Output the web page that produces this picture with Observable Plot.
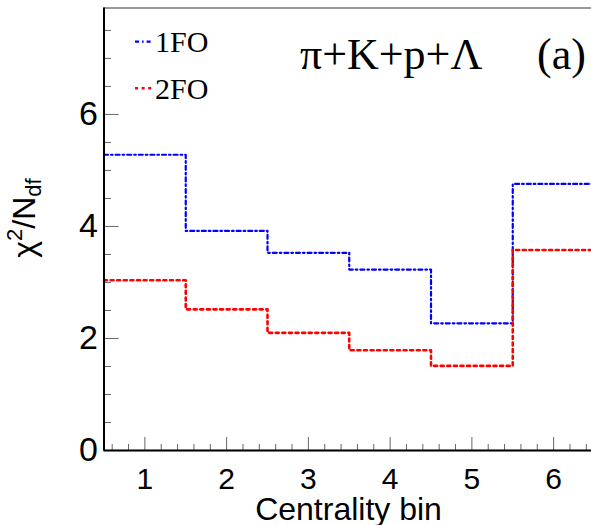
<!DOCTYPE html>
<html><head><meta charset="utf-8">
<script src="https://cdn.jsdelivr.net/npm/d3@7"></script>
<script src="https://cdn.jsdelivr.net/npm/@observablehq/plot@0.6"></script>
<style>
html,body{margin:0;padding:0;background:#fff;overflow:hidden;width:591px;height:525px;}
#chart{width:594px;height:525px;position:relative;}
#chart svg{display:block;max-width:none;}
</style></head><body><div id="chart"></div>
<script>
// ---- data ----
const bins = [1, 2, 3, 4, 5, 6];
const fo1 = [5.28, 3.92, 3.53, 3.23, 2.27, 4.76];
const fo2 = [3.04, 2.52, 2.10, 1.79, 1.51, 3.58];
const seriesNames = ["1FO", "2FO"];
const seriesColors = ["#0000ff", "#ff0000"];
const xTicks = [1, 2, 3, 4, 5, 6];
const yTicks = [0, 2, 4, 6];
const xDomain = [0.5, 6.5];
const yDomain = [0, 7.9];
const xTitle = "Centrality bin";
const panelTitle = "π+K+p+Λ";
const panelTag = "(a)";

// histogram outline: one point per bin low edge, plus the last upper edge
function steps(values, name) {
  const pts = bins.map((b, i) => ({x: b - 0.5, y: values[i], series: name}));
  pts.push({x: bins[bins.length - 1] + 0.5, y: values[values.length - 1], series: name});
  return pts;
}
const xMinor = d3.range(xDomain[0] + 0.1, xDomain[1], 0.2).map(v => +v.toFixed(1)).filter(v => !Number.isInteger(v));
const yMinor = d3.range(0.5, 7.6, 0.5).filter(v => v % 2 !== 0);

const dash1 = "4,3,1.6,3";
const dash2 = "3,3.6";

const plot = Plot.plot({
  width: 594, height: 525,
  marginLeft: 103.5, marginRight: 0, marginTop: 7.5, marginBottom: 75,
  x: {domain: xDomain},
  y: {domain: yDomain},
  style: {fontFamily: "'Liberation Sans', Arial, Helvetica, sans-serif", background: "white", color: "black", maxWidth: "none"},
  marks: [
    Plot.frame({stroke: "#555", strokeWidth: 1.2}),
    Plot.line(steps(fo1, seriesNames[0]), {x: "x", y: "y", curve: "step-after", stroke: seriesColors[0], strokeWidth: 2.2, strokeDasharray: dash1}),
    Plot.line(steps(fo2, seriesNames[1]), {x: "x", y: "y", curve: "step-after", stroke: seriesColors[1], strokeWidth: 2.6, strokeDasharray: dash2}),
    Plot.axisX({ticks: xMinor, tickSize: -6, tickFormat: () => "", stroke: "#666", label: null}),
    Plot.axisX({ticks: xTicks, tickSize: -13, tickFormat: () => "", stroke: "#666", label: null}),
    Plot.axisX({ticks: xTicks, tickSize: 0, tickPadding: 17, fontSize: 30, fill: "black", tickFormat: d => String(d), label: null}),
    Plot.axisY({ticks: yMinor, tickSize: -7.5, tickFormat: () => "", stroke: "#666", label: null}),
    Plot.axisY({ticks: yTicks, tickSize: -15, tickFormat: () => "", stroke: "#666", label: null}),
    Plot.axisY({ticks: yTicks, tickSize: 0, tickPadding: 6, fontSize: 34, fill: "black", tickFormat: d => String(d), label: null}),
    Plot.ruleX([xDomain[0]], {stroke: "black", strokeWidth: 2}),
    Plot.ruleY([yDomain[0]], {stroke: "black", strokeWidth: 2})
  ]
});
document.getElementById("chart").appendChild(plot);

// ---- annotations ----
const svg = d3.select(plot);
const serif = "'Liberation Serif', 'Times New Roman', serif";
const sans = "'Liberation Sans', Arial, Helvetica, sans-serif";

// x title
svg.append("text").attr("x", 348.5).attr("y", 520).attr("text-anchor", "middle")
  .attr("font-family", sans).attr("font-size", 32).attr("fill", "black").text(xTitle);

// y title chi^2/N_df
const yt = svg.append("text").attr("transform", "translate(35,218) rotate(-90)")
  .attr("text-anchor", "middle").attr("font-family", sans).attr("font-size", 32).attr("fill", "black");
yt.append("tspan").text("χ");
yt.append("tspan").attr("font-size", 22).attr("dy", -13).text("2");
yt.append("tspan").attr("dy", 13).text("/N");
yt.append("tspan").attr("font-size", 22).attr("dy", 6).text("df");

// legend
const legY = [41.7, 88.3];
const legBase = [51.5, 99];
const dashes = [dash1, dash2];
const widths = [2.2, 2.6];
seriesNames.forEach((name, i) => {
  svg.append("line").attr("x1", 135).attr("x2", 152).attr("y1", legY[i]).attr("y2", legY[i])
    .attr("stroke", seriesColors[i]).attr("stroke-width", widths[i]).attr("stroke-dasharray", dashes[i]);
  svg.append("text").attr("x", 155).attr("y", legBase[i]).attr("text-anchor", "start").attr("font-family", serif)
    .attr("font-size", 30).attr("fill", "black").text(name);
});

// panel title
svg.append("text").attr("x", 300).attr("y", 69).attr("text-anchor", "start").attr("font-family", serif)
  .attr("font-size", 44).attr("fill", "black").text(panelTitle);
svg.append("text").attr("x", 537).attr("y", 69).attr("text-anchor", "start").attr("font-family", serif)
  .attr("font-size", 44).attr("fill", "black").text(panelTag);
</script></body></html>
